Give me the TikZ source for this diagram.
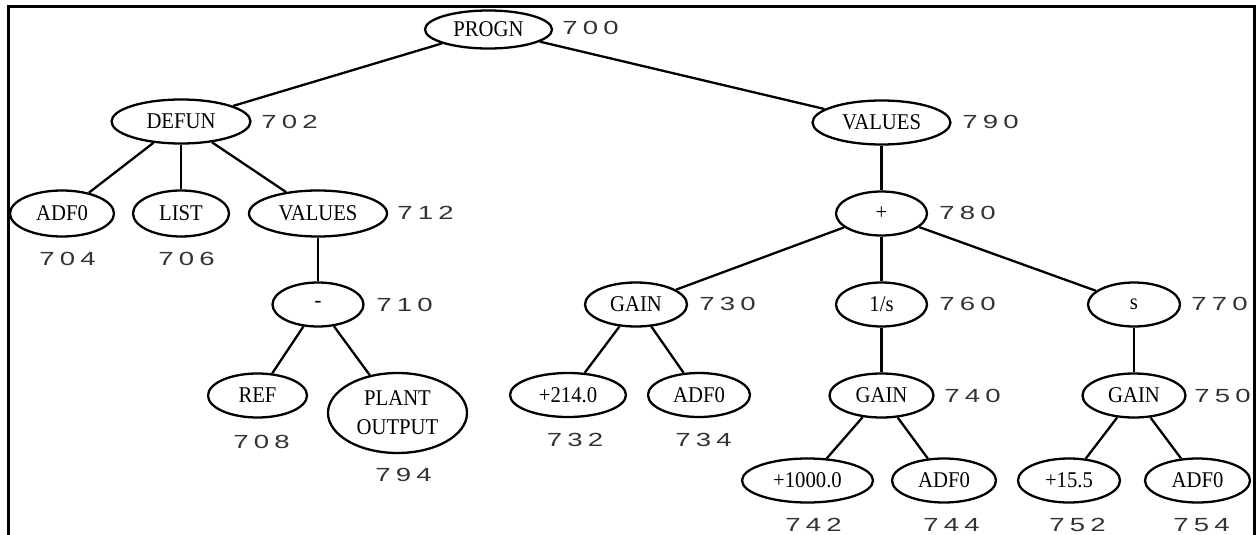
\documentclass[tikz,border=0pt]{standalone}
\usepackage{fontspec}
\usepackage{graphicx}
\setmainfont{Liberation Serif}
\newfontfamily\nodefont[FakeStretch=0.92]{Liberation Serif}
\newfontfamily\numfont{Liberation Sans}
\usetikzlibrary{shapes.geometric}
\newcommand\dgbox[1]{\makebox[20.5pt]{\scalebox{1.45}[1]{#1}}}
\newcommand\lbl[3]{\dgbox{#1}\dgbox{#2}\dgbox{#3}}
\tikzset{
  tn/.style={ellipse, draw, line width=2.3pt, inner sep=0pt, minimum height=44pt,
             font=\nodefont\fontsize{22.5}{29}\selectfont, align=center},
  numlbl/.style={inner sep=0pt, font=\numfont\fontsize{19}{21}\selectfont, text=black!80},
  edge/.style={line width=2.3pt}
}
\begin{document}
\begin{tikzpicture}[x=1pt,y=-1pt]
\useasboundingbox (0,0) rectangle (1256,535);
\draw[line width=2.8pt] (8.7,536) -- (8.7,6.7) -- (1254.3,6.7) -- (1254.3,536);

% nodes
\node[tn, minimum width=127pt, minimum height=38pt] (progn) at (488.5,29.5) {PROGN};
\node[tn, minimum width=139pt] (defun) at (181,121.5) {DEFUN};
\node[tn, minimum width=138pt] (val790) at (881.5,122.5) {VALUES};
\node[tn, minimum width=104pt, minimum height=46pt] (adf704) at (62,213.5) {ADF0};
\node[tn, minimum width=96pt, minimum height=46pt] (list) at (181,213.5) {LIST};
\node[tn, minimum width=138pt, minimum height=46pt] (val712) at (318,213.5) {VALUES};
\node[tn, minimum width=91pt] (plus) at (881.5,213.5) {+};
\node[tn, minimum width=91pt] (minus) at (318,304.5) {-};
\node[tn, minimum width=102pt] (gain730) at (636,304.5) {GAIN};
\node[tn, minimum width=91pt] (inv) at (881.5,304.5) {1/s};
\node[tn, minimum width=92pt] (s) at (1134,304.5) {s};
\node[tn, minimum width=99pt] (ref) at (257.5,395.5) {REF};
\node[tn, minimum width=139pt, minimum height=80pt] (plant) at (397.5,413) {PLANT\\OUTPUT};
\node[tn, minimum width=116pt] (c214) at (568,395) {+214.0};
\node[tn, minimum width=102pt] (adf734) at (699,395) {ADF0};
\node[tn, minimum width=104pt] (gain740) at (881.5,395.5) {GAIN};
\node[tn, minimum width=103pt] (gain750) at (1134,395.5) {GAIN};
\node[tn, minimum width=131pt] (c1000) at (807.5,480.5) {+1000.0};
\node[tn, minimum width=104pt] (adf744) at (944,480.5) {ADF0};
\node[tn, minimum width=102pt] (c155) at (1069,480.5) {+15.5};
\node[tn, minimum width=105pt] (adf754) at (1197.5,480.5) {ADF0};

% edges
\draw[edge] (progn) -- (defun);
\draw[edge] (progn) -- (val790);
\draw[edge] (defun) -- (adf704);
\draw[edge] (defun) -- (list);
\draw[edge] (defun) -- (val712);
\draw[edge] (val712) -- (minus);
\draw[edge] (minus) -- (ref);
\draw[edge] (minus) -- (plant);
\draw[edge] (val790) -- (plus);
\draw[edge] (plus) -- (gain730);
\draw[edge] (plus) -- (inv);
\draw[edge] (plus) -- (s);
\draw[edge] (gain730) -- (c214);
\draw[edge] (gain730) -- (adf734);
\draw[edge] (inv) -- (gain740);
\draw[edge] (gain740) -- (c1000);
\draw[edge] (gain740) -- (adf744);
\draw[edge] (s) -- (gain750);
\draw[edge] (gain750) -- (c155);
\draw[edge] (gain750) -- (adf754);

% side labels
\node[numlbl, anchor=west] (l700) at (559.5,28) {\lbl700};
\node[numlbl, anchor=west] (l702) at (258.5,122) {\lbl702};
\node[numlbl, anchor=west] (l790) at (959.5,122) {\lbl790};
\node[numlbl, anchor=west] (l712) at (394.5,213) {\lbl712};
\node[numlbl, anchor=west] (l780) at (936.5,213) {\lbl780};
\node[numlbl, anchor=west] (l710) at (373.5,305) {\lbl710};
\node[numlbl, anchor=west] (l730) at (696.5,304) {\lbl730};
\node[numlbl, anchor=west] (l760) at (936.5,304) {\lbl760};
\node[numlbl, anchor=west] (l770) at (1188.5,304) {\lbl770};
\node[numlbl, anchor=west] (l740) at (941.5,396) {\lbl740};
\node[numlbl, anchor=west] (l750) at (1191.5,396) {\lbl750};
% labels below
\node[numlbl] (l704) at (67.5,259) {\lbl704};
\node[numlbl] (l706) at (186.5,259) {\lbl706};
\node[numlbl] (l708) at (261.5,442) {\lbl708};
\node[numlbl] (l794) at (403.5,475) {\lbl794};
\node[numlbl] (l732) at (575,440) {\lbl732};
\node[numlbl] (l734) at (703.5,440) {\lbl734};
\node[numlbl] (l742) at (813.5,525) {\lbl742};
\node[numlbl] (l744) at (951.5,525) {\lbl744};
\node[numlbl] (l752) at (1077.5,525) {\lbl752};
\node[numlbl] (l754) at (1201.5,525) {\lbl754};
\end{tikzpicture}
\end{document}
